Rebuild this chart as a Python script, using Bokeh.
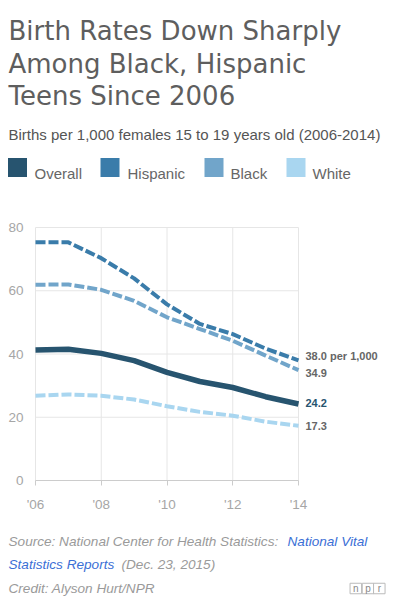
from bokeh.plotting import figure
from bokeh.models import Range1d, FixedTicker
from bokeh.core.properties import value
from bokeh.embed import file_html
from bokeh.resources import INLINE

# ---------------- data ----------------
years = [2006, 2007, 2008, 2009, 2010, 2011, 2012, 2013, 2014]
overall = [41.3, 41.5, 40.2, 37.9, 34.2, 31.3, 29.4, 26.5, 24.2]
hispanic = [75.3, 75.3, 70.3, 63.9, 55.7, 49.5, 46.3, 41.7, 38.0]
black = [61.9, 62.0, 60.3, 56.8, 51.6, 47.9, 44.2, 39.5, 34.9]
white = [26.8, 27.2, 26.8, 25.6, 23.5, 21.7, 20.5, 18.6, 17.3]
series_names = ["Overall", "Hispanic", "Black", "White"]
end_labels = ["24.2", "38.0 per 1,000", "34.9", "17.3"]
x_ticks = [2006, 2008, 2010, 2012, 2014]
x_tick_labels = ["'06", "'08", "'10", "'12", "'14"]
y_ticks = [0, 20, 40, 60, 80]

title_lines = ["Birth Rates Down Sharply", "Among Black, Hispanic", "Teens Since 2006"]
subtitle = "Births per 1,000 females 15 to 19 years old (2006-2014)"

C_OVERALL = "#27546f"
C_HISP = "#3a7caa"
C_BLACK = "#71a5ca"
C_WHITE = "#a9d6f0"
colors = [C_OVERALL, C_HISP, C_BLACK, C_WHITE]

# ---------------- layout constants (canvas pixels) ----------------
W, H = 392, 596
FL, FW = 35, 263          # chart area left / width
FT, FH = 227, 253         # chart area top / height
X0, X1 = years[0], years[-1]
Y0, Y1 = y_ticks[0], y_ticks[-1]
xs = (X1 - X0) / FW
ys = (Y1 - Y0) / FH

p = figure(width=W, height=H,
           x_range=Range1d(X0 - FL * xs, X1 + (W - FL - FW) * xs),
           y_range=Range1d(Y0 - (H - FT - FH) * ys, Y1 + FT * ys),
           output_backend="svg", toolbar_location=None, min_border=0)
p.outline_line_color = None
p.background_fill_color = "white"
p.border_fill_color = "white"
p.grid.visible = False

# pixel-coordinate ranges for page furniture (x from left, y from top)
p.extra_x_ranges = {"px": Range1d(0, W)}
p.extra_y_ranges = {"py": Range1d(H, 0)}

# axes drawn at fixed locations inside the canvas
p.xaxis.fixed_location = Y0
p.xaxis.bounds = (X0, X1)
p.yaxis.fixed_location = X0
p.yaxis.bounds = (Y0, Y1)
p.xaxis.ticker = FixedTicker(ticks=x_ticks)
p.xaxis.major_label_overrides = {t: l for t, l in zip(x_ticks, x_tick_labels)}
p.yaxis.ticker = FixedTicker(ticks=y_ticks)
p.xaxis.axis_line_color = "#cccccc"
p.xaxis.major_tick_line_color = "#cccccc"
p.xaxis.major_tick_in = 0
p.xaxis.major_tick_out = 5
p.xaxis.minor_tick_line_color = None
p.xaxis.major_label_standoff = 11
p.yaxis.axis_line_color = None
p.yaxis.major_tick_line_color = None
p.yaxis.minor_tick_line_color = None
p.yaxis.major_tick_in = 0
p.yaxis.major_tick_out = 0
p.yaxis.major_label_standoff = 12
for ax in (p.xaxis, p.yaxis):
    ax.major_label_text_font = "Liberation Sans"
    ax.major_label_text_font_size = "13.5px"
    ax.major_label_text_color = "#a6a6a6"

# grid lines limited to the chart area, at the tick positions
p.segment(x0=x_ticks, x1=x_ticks, y0=[Y0] * len(x_ticks), y1=[Y1] * len(x_ticks),
          line_color="#e6e6e6", line_width=1)
p.segment(x0=[X0] * len(y_ticks), x1=[X1] * len(y_ticks), y0=y_ticks, y1=y_ticks,
          line_color="#e6e6e6", line_width=1)

# series
p.line(years, white, line_color=C_WHITE, line_width=4, line_dash="10 3")
p.line(years, black, line_color=C_BLACK, line_width=4, line_dash="10 3")
p.line(years, hispanic, line_color=C_HISP, line_width=4, line_dash="10 3")
p.line(years, overall, line_color=C_OVERALL, line_width=5.5, line_join="round")

# end labels
last = [overall[-1], hispanic[-1], black[-1], white[-1]]
offs = [-1, -4, 3, 0]
lab_colors = [C_OVERALL, "#666666", "#666666", "#666666"]
for yv, lab, off, col in zip(last, end_labels, offs, lab_colors):
    p.text(x=[years[-1]], y=[yv], text=[lab], x_offset=7, y_offset=off,
           text_font=value("Liberation Sans"), text_font_size="11px",
           text_font_style="bold", text_color=col,
           text_baseline="middle", text_align="left")


def txt(x, y, s, font="Liberation Sans", size="13.6px", color="#999999",
        style="normal", align="left", baseline="alphabetic"):
    p.text(x=[x], y=[y], text=[s], x_range_name="px", y_range_name="py",
           text_font=value(font), text_font_size=size, text_color=color,
           text_font_style=style, text_align=align, text_baseline=baseline)


# header
for yb, line in zip([30, 63, 95], title_lines):
    txt(8, yb, line, font="DejaVu Sans", size="26px", color="#5e5e5e")
txt(8, 134, subtitle, size="15px", color="#555555")

sw_x = [7.5, 100, 204, 286]
tx_x = [34, 127, 230, 312]
p.rect(x=[v + 9.5 for v in sw_x], y=[167] * 4, width=19, height=19,
       fill_color=colors, line_color=None, x_range_name="px", y_range_name="py")
for tx, name in zip(tx_x, series_names):
    txt(tx, 173, name, size="15px", color="#666666")

# footer
GRAY = "#9a9a9a"
BLUE = "#3b6fd6"
txt(8, 541, "Source: National Center for Health Statistics: ", color=GRAY, style="italic")
txt(287, 541, "National Vital", color=BLUE, style="italic")
txt(8, 564, "Statistics Reports", color=BLUE, style="italic")
txt(121, 564, "(Dec. 23, 2015)", color=GRAY, style="italic")
txt(8, 588, "Credit: Alyson Hurt/NPR", color=GRAY, style="italic")

# npr logo
logo_cx = [355.3, 367.5, 378.8]
p.rect(x=logo_cx, y=[588] * 3, width=11.5, height=10.5,
       fill_color="white", line_color="#bbbbbb", line_width=1,
       x_range_name="px", y_range_name="py")
for cx, ch in zip(logo_cx, ["n", "p", "r"]):
    txt(cx, 588, ch, size="10px", color="#888888", align="center", baseline="middle")

open("out.html", "w").write(file_html(p, INLINE))
